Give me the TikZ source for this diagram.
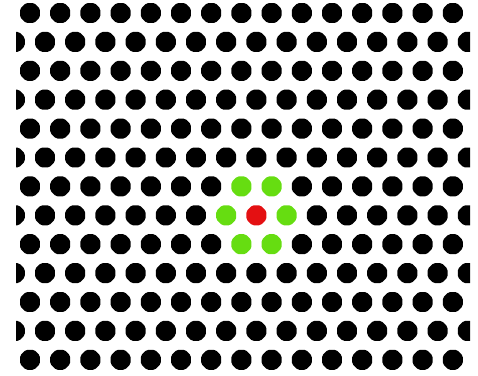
\documentclass[tikz,border=0pt]{standalone}
\usetikzlibrary{positioning,shapes.geometric}
\definecolor{centercolor}{RGB}{228,16,18}
\definecolor{neighbourcolor}{RGB}{102,221,17}

\begin{document}
\begin{tikzpicture}[
			x=0.5mm,y=-0.5mm,
			latticedot/.style={
				regular polygon,
				regular polygon sides=8,
				rounded corners=0.8mm,
				fill=black,
				inner sep=0pt,
				minimum size=10.8mm
			}
			]
			
			\useasboundingbox (0,0) rectangle (478,375);
			\clip (16,0) rectangle (470,375);
			
			% hexagonal lattice, odd rows shifted by half a step
			\foreach \r in {0,...,12}{
				\pgfmathsetmacro{\rowshift}{mod(\r,2)==1 ? 14.8 : 30}
				\foreach \k in {0,...,15}{
					\pgfmathtruncatemacro{\dotkind}{(\r==7 && \k==8) ? 2 : ((((\r==6 || \r==8) && (\k==7 || \k==8)) || (\r==7 && (\k==7 || \k==9))) ? 1 : 0)}
					\ifcase\dotkind \def\dotfill{black}\or \def\dotfill{neighbourcolor}\or \def\dotfill{centercolor}\fi
					\node[latticedot,fill=\dotfill] (dot-\r-\k) at (\rowshift+30.2*\k,13+28.9*\r) {};
				}
			}
			
		\end{tikzpicture}
\end{document}
